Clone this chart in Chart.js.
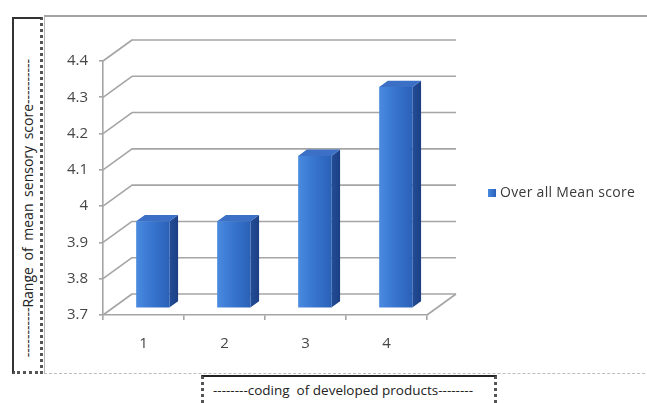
<!DOCTYPE html>
<html>
<head>
<meta charset="utf-8">
<script src="https://cdn.jsdelivr.net/npm/chart.js@4/dist/chart.umd.min.js"></script>
<style>
  html, body { margin: 0; padding: 0; background: #fff; }
  #wrap { position: relative; width: 647px; height: 403px; overflow: hidden; background: #fff; }
  #c { position: absolute; left: 0; top: 0; }
  .frame {
    position: absolute; left: 44px; top: 15px; width: 620px; height: 356px;
    border-top: 2px solid #a3a3a3; border-left: 1px solid #b5b5b5;
    border-bottom: 1px dashed #bdbdbd; pointer-events: none;
  }
  .ybox {
    position: absolute; left: 12px; top: 17px; width: 26px; height: 352px;
    border-left: 2px solid #333; border-top: 2px solid #333;
    border-right: 3px dotted #555; border-bottom: 3px dotted #555;
    background: #fff;
  }
  .ytitle {
    position: absolute; left: 27px; top: 208px; white-space: pre;
    transform: translate(-50%, -50%) rotate(-90deg);
    font: 14px "Open Sans", sans-serif; color: #222; word-spacing: 3px;
  }
  .xbox {
    position: absolute; left: 201px; top: 375px; width: 290px; height: 40px;
    border-top: 2px solid #222; border-left: 3px dotted #555; border-right: 3px dotted #555;
    background: #fff;
  }
  .xtitle {
    position: absolute; left: 343px; top: 390px; white-space: pre;
    transform: translate(-50%, -50%);
    font: 13.5px "Open Sans", sans-serif; color: #222;
  }
</style>
</head>
<body>
<div id="wrap">
  <canvas id="c" width="647" height="403"></canvas>
  <div class="frame"></div>
  <div class="ybox"></div>
  <div class="ytitle">-----------Range of mean sensory score----------</div>
  <div class="xbox"></div>
  <div class="xtitle">--------coding  of developed products--------</div>
</div>
<script>
// Product codes and their overall mean sensory scores
const categories = ['1', '2', '3', '4'];
const meanScores = [3.94, 3.94, 4.12, 4.31];
const seriesName = 'Over all Mean score';
const yTickLabels = ['3.7', '3.8', '3.9', '4', '4.1', '4.2', '4.3', '4.4'];
const yMin = 3.7, yMax = 4.4;

// Depth of the 3-D box (screen offset from front plane to back wall)
const DEPTH_X = 29, DEPTH_Y = -21;
// Bars sit between these fractions of the depth
const BAR_FRONT = 0.32, BAR_BACK = 0.62;
const GRID = '#a5a5a5';

function frontGradient(ctx, x0, x1) {
  const g = ctx.createLinearGradient(x0, 0, x1, 0);
  g.addColorStop(0, '#4a8adf');
  g.addColorStop(0.45, '#3876d0');
  g.addColorStop(1, '#2b61b8');
  return g;
}

const box3d = {
  id: 'box3d',
  beforeDatasetsDraw(chart) {
    const { ctx, chartArea: a, scales: { y } } = chart;
    ctx.save();
    ctx.strokeStyle = GRID;
    ctx.lineWidth = 1.6;
    ctx.lineJoin = 'round';
    y.ticks.forEach(t => {
      const py = y.getPixelForValue(t.value);
      ctx.beginPath();
      ctx.moveTo(a.left, py);
      ctx.lineTo(a.left + DEPTH_X, py + DEPTH_Y);
      ctx.lineTo(a.right + DEPTH_X, py + DEPTH_Y);
      ctx.stroke();
    });
    // floor right edge
    const pb = y.getPixelForValue(yMin);
    ctx.beginPath();
    ctx.moveTo(a.right, pb);
    ctx.lineTo(a.right + DEPTH_X, pb + DEPTH_Y);
    ctx.stroke();
    ctx.restore();
  },
  afterDatasetsDraw(chart) {
    const { ctx, scales: { y: ys } } = chart;
    const meta = chart.getDatasetMeta(0);
    const dx = (BAR_BACK - BAR_FRONT) * DEPTH_X;
    const dy = (BAR_BACK - BAR_FRONT) * DEPTH_Y;
    const floor = ys.getPixelForValue(yMin);
    ctx.save();
    meta.data.forEach(bar => {
      const { x, y, base, width } = bar.getProps(['x', 'y', 'base', 'width'], true);
      const l = x - width / 2 + BAR_FRONT * DEPTH_X;
      const r = l + width;
      const t = y + BAR_FRONT * DEPTH_Y;
      const b = Math.min(base, floor) + BAR_FRONT * DEPTH_Y;
      // side face
      const sg = ctx.createLinearGradient(r, 0, r + dx, 0);
      sg.addColorStop(0, '#234e98');
      sg.addColorStop(1, '#1c3f83');
      ctx.fillStyle = sg;
      ctx.beginPath();
      ctx.moveTo(r, t); ctx.lineTo(r + dx, t + dy);
      ctx.lineTo(r + dx, b + dy); ctx.lineTo(r, b);
      ctx.closePath(); ctx.fill();
      // top face
      ctx.fillStyle = '#3b70c6';
      ctx.beginPath();
      ctx.moveTo(l, t); ctx.lineTo(l + dx, t + dy);
      ctx.lineTo(r + dx, t + dy); ctx.lineTo(r, t);
      ctx.closePath(); ctx.fill();
      // front face
      ctx.fillStyle = frontGradient(ctx, l, r);
      ctx.fillRect(l, t, width, b - t);
    });
    ctx.restore();
  },
  afterDraw(chart) {
    // legend entry
    const { ctx } = chart;
    const ds = chart.data.datasets[0];
    ctx.save();
    ctx.fillStyle = frontGradient(ctx, 488, 496);
    ctx.fillRect(488, 189, 8, 8);
    ctx.fillStyle = '#3a3a3a';
    ctx.font = '14px "Open Sans", sans-serif';
    ctx.letterSpacing = '0.3px';
    ctx.textBaseline = 'middle';
    ctx.fillText(ds.label, 500, 193);
    ctx.restore();
  }
};

new Chart(document.getElementById('c'), {
  type: 'bar',
  data: {
    labels: categories,
    datasets: [{
      label: seriesName,
      data: meanScores,
      base: yMin,
      backgroundColor: 'rgba(0,0,0,0)',
      borderWidth: 0,
      barPercentage: 0.41,
      categoryPercentage: 1
    }]
  },
  options: {
    responsive: false,
    animation: false,
    devicePixelRatio: 1,
    layout: { padding: { left: 0, top: 61, right: 220, bottom: 48 } },
    plugins: { legend: { display: false }, tooltip: { enabled: false } },
    scales: {
      x: {
        afterFit(s) { s.height = 40; },
        grid: { drawOnChartArea: false, color: GRID, lineWidth: 1.6, tickLength: 5, offset: true },
        border: { color: GRID, width: 1.6 },
        ticks: { color: '#464646', font: { family: 'Open Sans', size: 15 }, padding: 15 }
      },
      y: {
        min: yMin, max: yMax,
        afterFit(s) { s.width = 103; },
        afterBuildTicks(s) { s.ticks = yTickLabels.map(v => ({ value: parseFloat(v) })); },
        grid: { drawOnChartArea: false, color: GRID, lineWidth: 1.6, tickLength: 4 },
        border: { color: GRID, width: 1.6 },
        ticks: {
          color: '#464646', font: { family: 'Open Sans', size: 15 }, padding: 11,
          callback: (v, i) => yTickLabels[i]
        }
      }
    }
  },
  plugins: [box3d]
});
</script>
</body>
</html>
